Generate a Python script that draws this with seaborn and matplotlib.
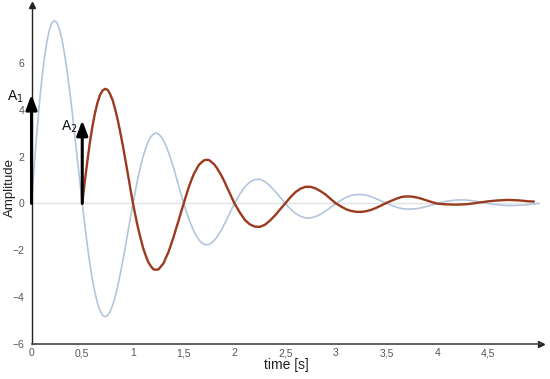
import numpy as np
import pandas as pd
import matplotlib
matplotlib.use("Agg")
import matplotlib.pyplot as plt
import seaborn as sns

# ---------------- data ----------------
# sample times: 0.025 s steps up to 2 s, then 0.05 s steps
time_blue = ([round(0.025 * i, 3) for i in range(81)] +
             [round(2.05 + 0.05 * i, 2) for i in range(60)])
amp_blue = [0.00, 1.49, 2.89, 4.14, 5.24, 6.15, 6.87, 7.39, 7.70, 7.81,
            7.72, 7.44, 7.00, 6.40, 5.67, 4.84, 3.93, 2.96, 1.97, 0.97,
            0.00, -0.93, -1.79, -2.57, -3.25, -3.81, -4.26, -4.58, -4.77, -4.84,
            -4.78, -4.61, -4.34, -3.97, -3.52, -3.00, -2.44, -1.84, -1.22, -0.60,
            0.00, 0.57, 1.11, 1.59, 2.01, 2.36, 2.64, 2.84, 2.96, 3.00,
            2.97, 2.86, 2.69, 2.46, 2.18, 1.86, 1.51, 1.14, 0.76, 0.37,
            0.00, -0.34, -0.66, -0.94, -1.19, -1.39, -1.56, -1.67, -1.74, -1.77,
            -1.75, -1.68, -1.58, -1.45, -1.28, -1.10, -0.89, -0.67, -0.45, -0.22,
            0.00,
            0.38, 0.70, 0.91, 1.02, 1.03, 0.93, 0.75, 0.52, 0.26,
            0.00, -0.23, -0.42, -0.55, -0.62, -0.62, -0.56, -0.46, -0.32, -0.16,
            0.00, 0.14, 0.26, 0.34, 0.38, 0.38, 0.35, 0.28, 0.19, 0.10,
            0.00, -0.09, -0.17, -0.22, -0.24, -0.24, -0.22, -0.18, -0.12, -0.06,
            0.00, 0.06, 0.10, 0.13, 0.15, 0.15, 0.14, 0.11, 0.08, 0.04,
            0.00, -0.04, -0.06, -0.08, -0.09, -0.09, -0.08, -0.07, -0.05, -0.02,
            0.00]

time_red = ([round(0.5 + 0.025 * i, 3) for i in range(61)] +
            [round(2.05 + 0.05 * i, 2) for i in range(59)])
amp_red = [0.00, 0.94, 1.79, 2.60, 3.28, 3.85, 4.30, 4.63, 4.82, 4.89,
           4.85, 4.66, 4.40, 4.01, 3.56, 3.03, 2.47, 1.86, 1.24, 0.61,
           0.00, -0.54, -1.05, -1.49, -1.91, -2.22, -2.50, -2.67, -2.81, -2.83,
           -2.82, -2.69, -2.56, -2.31, -2.07, -1.75, -1.43, -1.07, -0.72, -0.35,
           0.00, 0.36, 0.70, 0.99, 1.26, 1.46, 1.65, 1.75, 1.84, 1.86,
           1.85, 1.76, 1.67, 1.52, 1.35, 1.16, 0.94, 0.70, 0.47, 0.23,
           0.00,
           -0.37, -0.69, -0.89, -0.99, -1.00, -0.91, -0.73, -0.51, -0.25,
           0.00, 0.26, 0.48, 0.63, 0.71, 0.71, 0.64, 0.52, 0.37, 0.18,
           0.00, -0.13, -0.25, -0.32, -0.36, -0.36, -0.33, -0.27, -0.18, -0.08,
           0.03, 0.12, 0.21, 0.28, 0.30, 0.29, 0.25, 0.19, 0.12, 0.05,
           -0.01, -0.03, -0.04, -0.05, -0.05, -0.04, -0.03, 0.00, 0.03, 0.06,
           0.09, 0.11, 0.13, 0.14, 0.15, 0.14, 0.13, 0.11, 0.09, 0.08]

arrow_times = [0.0, 0.5]
arrow_amps = [4.65, 3.55]
arrow_labels = ["A$_1$", "A$_2$"]

x_ticks = [0, 0.5, 1, 1.5, 2, 2.5, 3, 3.5, 4, 4.5]
x_tick_labels = ["0", "0,5", "1", "1,5", "2", "2,5", "3", "3,5", "4", "4,5"]
y_ticks = [-6, -4, -2, 0, 2, 4, 6]
y_tick_labels = ["\u22126", "\u22124", "\u22122", "0", "2", "4", "6"]

# ---------------- figure ----------------
sns.set_style("white")
plt.rcParams["font.family"] = ["Liberation Sans", "DejaVu Sans"]

fig = plt.figure(figsize=(5.5, 3.79), dpi=100)
ax = fig.add_axes([31.5 / 550, 35 / 379, 509.5 / 550, 339 / 379])

df_blue = pd.DataFrame({"t": time_blue, "a": amp_blue})
df_red = pd.DataFrame({"t": time_red, "a": amp_red})

ax.axhline(0, color="#e4e4e4", lw=1.0, zorder=1)
sns.lineplot(data=df_blue, x="t", y="a", ax=ax, color="#b3c5dc", lw=1.2, zorder=2,
             solid_joinstyle="round")
sns.lineplot(data=df_red, x="t", y="a", ax=ax, color="#9b3a1f", lw=1.7, zorder=3,
             solid_joinstyle="round")

offsets = [(-11.5, -1.5), (-9.0, -4.5)]
for t, a, lab, off in zip(arrow_times, arrow_amps, arrow_labels, offsets):
    ax.annotate("", xy=(t, a), xytext=(t, 0),
                arrowprops=dict(arrowstyle="-|>,head_length=0.88,head_width=0.33",
                                mutation_scale=10, color="black", lw=2.2,
                                shrinkA=0, shrinkB=0),
                zorder=5)
    ax.annotate(lab, xy=(t, a), xytext=off, textcoords="offset points",
                ha="center", va="center", fontsize=10, color="#111111")

ax.set_xlim(0, 5.02)
ax.set_ylim(-6, 8.47)
ax.set_xticks(x_ticks)
ax.set_xticklabels(x_tick_labels)
ax.set_yticks(y_ticks)
ax.set_yticklabels(y_tick_labels)
ax.tick_params(axis="both", direction="in", length=3, width=0.8,
               color="#bbbbbb", labelsize=7.5, labelcolor="#555555", pad=3)
ax.tick_params(axis="y", pad=5)

for s in ["top", "right"]:
    ax.spines[s].set_visible(False)
ax.spines["left"].set_color("#222222")
ax.spines["left"].set_linewidth(1.0)
ax.spines["bottom"].set_color("#444444")
ax.spines["bottom"].set_linewidth(1.2)

ax.plot(1, 0, ">", color="#222222", ms=4, transform=ax.transAxes, clip_on=False)
ax.plot(0, 1, "^", color="#222222", ms=4, transform=ax.transAxes, clip_on=False)

ax.set_xlabel("time [s]", fontsize=10, color="#222222", labelpad=0)
ax.set_ylabel("Amplitude", fontsize=9.5, color="#222222")
ax.yaxis.set_label_coords(-0.030, 0.463)

fig.savefig("out.png", dpi=100)
